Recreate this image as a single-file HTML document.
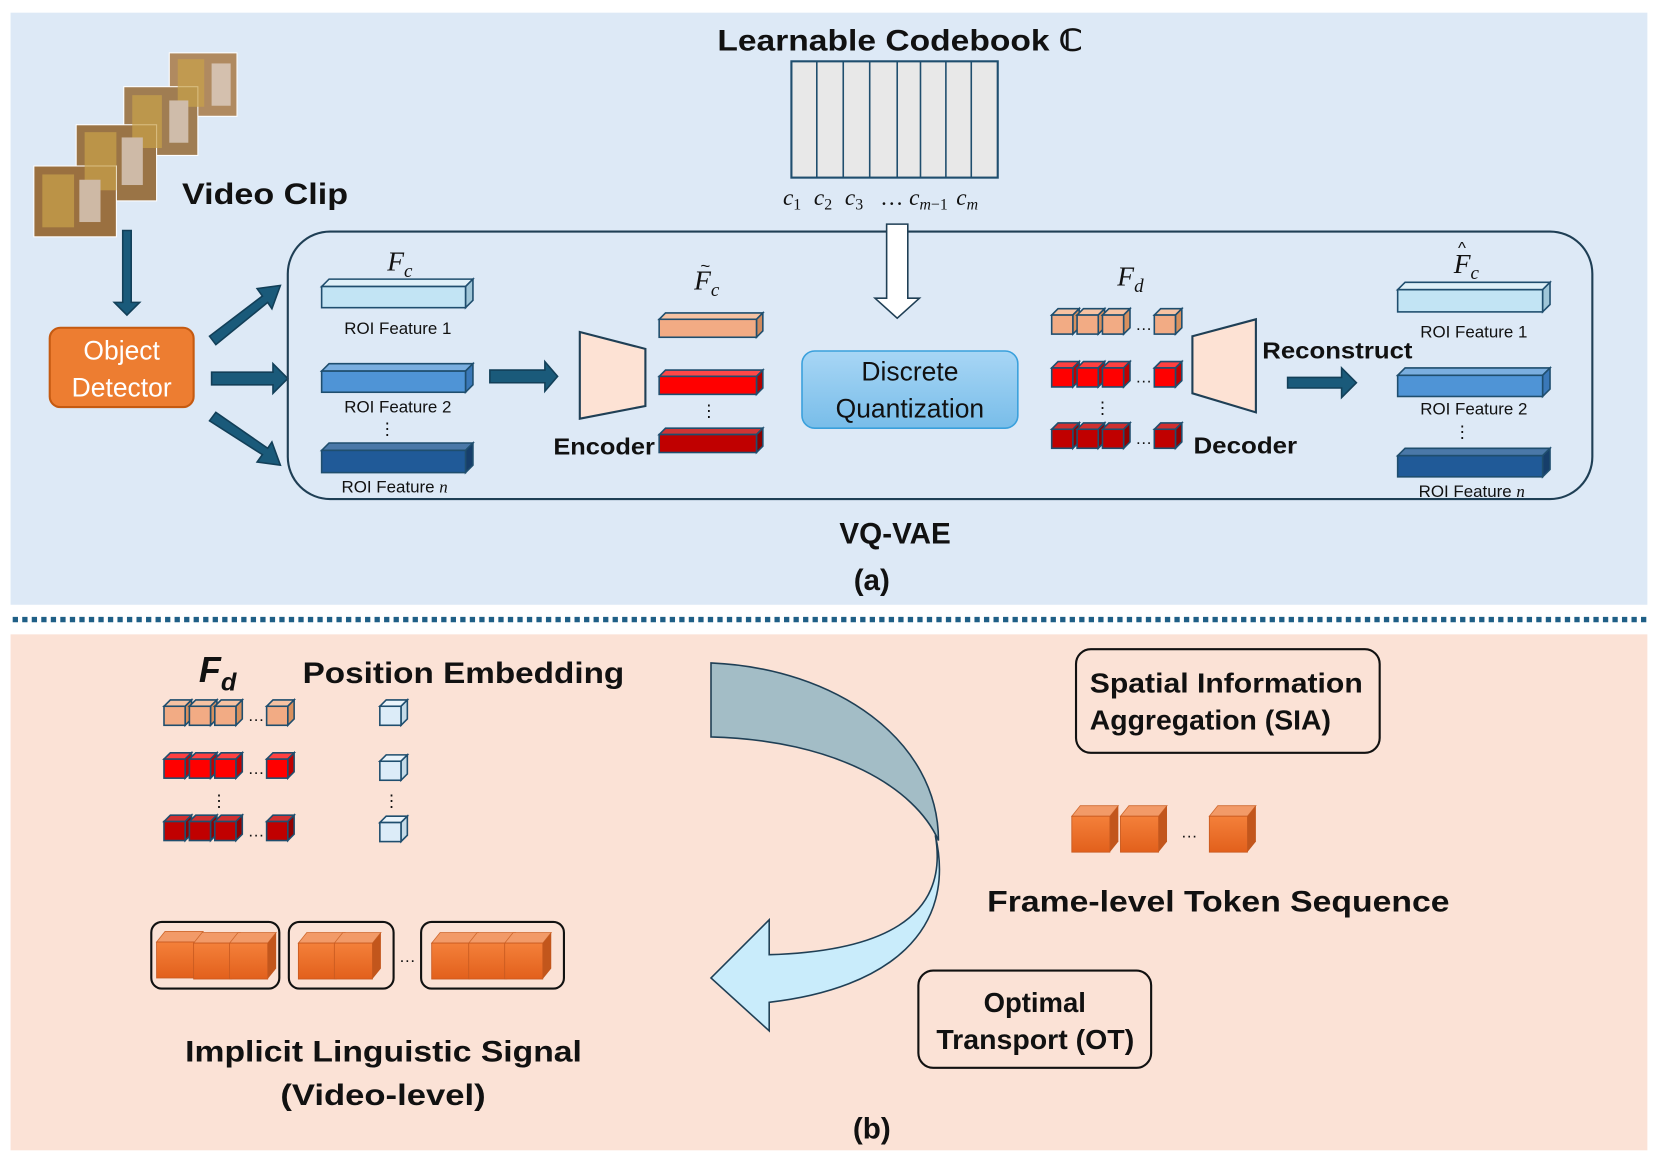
<!DOCTYPE html>
<html><head><meta charset="utf-8"><style>
html,body{margin:0;padding:0;background:#fff;}
svg{display:block;}
text{font-family:"Liberation Sans",sans-serif;}
.b{font-weight:bold;fill:#111;}
.m{font-family:"Liberation Serif",serif;font-style:italic;fill:#111;}
.s{font-size:16px;fill:#111;}
</style></head><body>
<svg width="1659" height="1163" viewBox="0 0 1568 1100" preserveAspectRatio="none" xmlns="http://www.w3.org/2000/svg">
<defs>
<g id="cO"><polygon points="0,6 6,0 26,0 20,6" fill="#f6c2a2" stroke="#1f4e6e" stroke-width="1.5"/><polygon points="20,6 26,0 26,18 20,24" fill="#d8905e" stroke="#1f4e6e" stroke-width="1.5"/><rect x="0" y="6" width="20" height="18" fill="#f2ab84" stroke="#1f4e6e" stroke-width="1.5"/></g>
<g id="cR"><polygon points="0,6 6,0 26,0 20,6" fill="#ff4040" stroke="#1f4e6e" stroke-width="1.5"/><polygon points="20,6 26,0 26,18 20,24" fill="#c00000" stroke="#1f4e6e" stroke-width="1.5"/><rect x="0" y="6" width="20" height="18" fill="#ff0000" stroke="#1f4e6e" stroke-width="1.5"/></g>
<g id="cD"><polygon points="0,6 6,0 26,0 20,6" fill="#d03030" stroke="#1f4e6e" stroke-width="1.5"/><polygon points="20,6 26,0 26,18 20,24" fill="#900000" stroke="#1f4e6e" stroke-width="1.5"/><rect x="0" y="6" width="20" height="18" fill="#c00000" stroke="#1f4e6e" stroke-width="1.5"/></g>
<g id="cL"><polygon points="0,6 6,0 26,0 20,6" fill="#eaf4fb" stroke="#1f4e6e" stroke-width="1.5"/><polygon points="20,6 26,0 26,18 20,24" fill="#c5dbe8" stroke="#1f4e6e" stroke-width="1.5"/><rect x="0" y="6" width="20" height="18" fill="#dcecf8" stroke="#1f4e6e" stroke-width="1.5"/></g>
<linearGradient id="og" x1="0" y1="0" x2="0" y2="1"><stop offset="0" stop-color="#f4803a"/><stop offset="1" stop-color="#e2601c"/></linearGradient>
<g id="cB"><polygon points="0,10 8,0 44,0 36,10" fill="#f29a68" stroke="#d06a30" stroke-width="0.8"/><polygon points="36,10 44,0 44,34 36,44" fill="#c2561c"/><rect x="0" y="10" width="36" height="34" fill="url(#og)" stroke="#c85a20" stroke-width="0.8"/></g>
<linearGradient id="dq" x1="0" y1="0" x2="0" y2="1"><stop offset="0" stop-color="#a8d6f5"/><stop offset="1" stop-color="#78bde9"/></linearGradient>
</defs>
<rect x="10" y="12" width="1547" height="560" fill="#dde9f6"/>
<rect x="10" y="600" width="1547" height="488" fill="#fbe2d6"/>
<line x1="12" y1="586" x2="1557" y2="586" stroke="#1f5f86" stroke-width="5" stroke-dasharray="5,4"/>

<text x="678" y="48" class="b" font-size="28" textLength="345" lengthAdjust="spacingAndGlyphs">Learnable Codebook ℂ</text>
<rect x="748" y="58" width="195" height="110" fill="#e8e8e8" stroke="#1f4e6e" stroke-width="2"/>
<g stroke="#1f4e6e" stroke-width="1.5"><line x1="772" y1="58" x2="772" y2="168"/><line x1="797" y1="58" x2="797" y2="168"/><line x1="822" y1="58" x2="822" y2="168"/><line x1="848" y1="58" x2="848" y2="168"/><line x1="870" y1="58" x2="870" y2="168"/><line x1="894" y1="58" x2="894" y2="168"/><line x1="918" y1="58" x2="918" y2="168"/></g>
<text x="740" y="194" class="m" font-size="22">c<tspan font-size="15" dy="4" font-style="normal">1</tspan><tspan dy="-4" dx="12">c</tspan><tspan font-size="15" dy="4" font-style="normal">2</tspan><tspan dy="-4" dx="12">c</tspan><tspan font-size="15" dy="4" font-style="normal">3</tspan><tspan dy="-4" dx="16" font-style="normal">… </tspan><tspan>c</tspan><tspan font-size="15" dy="4">m</tspan><tspan font-size="15" font-style="normal">−1</tspan><tspan dy="-4" dx="8">c</tspan><tspan font-size="15" dy="4">m</tspan></text>

<!-- video frames -->
<g stroke="#fff" stroke-width="1">
<rect x="160" y="50" width="64" height="60" fill="#b08a60"/><rect x="117" y="82" width="70" height="65" fill="#a07d52"/><rect x="72" y="118" width="76" height="72" fill="#9a7446"/><rect x="32" y="157" width="78" height="67" fill="#9a7040"/>
</g>
<g opacity="0.7"><rect x="40" y="165" width="30" height="50" fill="#c9a24a"/><rect x="80" y="125" width="30" height="55" fill="#c9a24a"/><rect x="125" y="90" width="28" height="50" fill="#c9a24a"/><rect x="168" y="56" width="25" height="45" fill="#c9a24a"/><rect x="75" y="170" width="20" height="40" fill="#e4d8d0"/><rect x="115" y="130" width="20" height="45" fill="#e4d8d0"/><rect x="160" y="95" width="18" height="40" fill="#e4d8d0"/><rect x="200" y="60" width="18" height="40" fill="#e4d8d0"/></g>
<text x="172" y="193" class="b" font-size="28" textLength="157" lengthAdjust="spacingAndGlyphs">Video Clip</text>

<!-- arrows left -->
<g fill="#1a5a7a" stroke="#123f58" stroke-width="1.5">
<polygon points="116,218 124,218 124,286 132,286 120,298 108,286 116,286"/>
<polygon points="200,352 258,352 258,344 272,358 258,372 258,364 200,364"/>
<polygon points="198,318 248,280 243,273 265,270 257,292 253,286 204,326"/>
<polygon points="198,398 204,390 253,424 257,418 265,440 243,437 248,430"/>
<polygon points="463,350 515,350 515,342 527,356 515,370 515,362 463,362"/>
<polygon points="1217,357 1268,357 1268,348 1282,362 1268,376 1268,367 1217,367"/>
</g>
<rect x="47" y="310" width="136" height="75" rx="10" fill="#ed7d31" stroke="#c55a11" stroke-width="2"/>
<text x="115" y="340" text-anchor="middle" font-size="25" fill="#fff">Object</text>
<text x="115" y="375" text-anchor="middle" font-size="25" fill="#fff">Detector</text>

<rect x="272" y="219" width="1233" height="253" rx="40" fill="none" stroke="#1f3f55" stroke-width="2"/>

<!-- Fc bars -->
<text x="366" y="256" class="m" font-size="26">F<tspan font-size="18" dy="6">c</tspan></text>
<g stroke="#1f4e6e" stroke-width="1.5">
<polygon points="304,271 311,264 447,264 440,271" fill="#dff0f8"/><polygon points="440,271 447,264 447,284 440,291" fill="#9fc6d8"/><rect x="304" y="271" width="136" height="20" fill="#c2e4f4"/>
<polygon points="304,351 311,344 447,344 440,351" fill="#7aaedf"/><polygon points="440,351 447,344 447,364 440,371" fill="#3a78b8"/><rect x="304" y="351" width="136" height="20" fill="#4f94d6"/>
<polygon points="304,426 311,419 447,419 440,426" fill="#4a78a8"/><polygon points="440,426 447,419 447,440 440,447" fill="#163e6a"/><rect x="304" y="426" width="136" height="21" fill="#205a98"/>
</g>
<text x="376" y="316" text-anchor="middle" class="s">ROI Feature 1</text>
<text x="376" y="390" text-anchor="middle" class="s">ROI Feature 2</text>
<text x="366" y="411" text-anchor="middle" class="s">⋮</text>
<text x="373" y="466" text-anchor="middle" class="s">ROI Feature <tspan class="m">n</tspan></text>

<!-- encoder -->
<polygon points="548,314 610,330 610,384 548,396" fill="#fde2d4" stroke="#1f3f55" stroke-width="2"/>
<text x="523" y="430" class="b" font-size="22" textLength="96" lengthAdjust="spacingAndGlyphs">Encoder</text>
<text x="656" y="274" class="m" font-size="26">F<tspan font-size="18" dy="6">c</tspan></text>
<text x="662" y="257" font-size="16" fill="#111">~</text>
<g stroke="#1f4e6e" stroke-width="1.5">
<polygon points="623,302 629,296 721,296 715,302" fill="#f6c2a2"/><polygon points="715,302 721,296 721,313 715,319" fill="#d08a5e"/><rect x="623" y="302" width="92" height="17" fill="#f2ab84"/>
<polygon points="623,356 629,350 721,350 715,356" fill="#ff4848"/><polygon points="715,356 721,350 721,367 715,373" fill="#b00000"/><rect x="623" y="356" width="92" height="17" fill="#ff0000"/>
<polygon points="623,411 629,405 721,405 715,411" fill="#d03434"/><polygon points="715,411 721,405 721,422 715,428" fill="#880000"/><rect x="623" y="411" width="92" height="17" fill="#c00000"/>
</g>
<text x="670" y="394" text-anchor="middle" class="s">⋮</text>

<!-- down hollow arrow -->
<polygon points="838,212 858,212 858,282 869,282 848,301 827,282 838,282" fill="#fff" stroke="#1f3f55" stroke-width="1.5"/>
<rect x="758" y="332" width="204" height="73" rx="12" fill="url(#dq)" stroke="#3aa0dc" stroke-width="1.5"/>
<text x="860" y="360" text-anchor="middle" font-size="25" fill="#111">Discrete</text>
<text x="860" y="395" text-anchor="middle" font-size="25" fill="#111">Quantization</text>

<!-- Fd cubes top -->
<text x="1056" y="270" class="m" font-size="26">F<tspan font-size="18" dy="6">d</tspan></text>
<use href="#cO" x="994" y="292"/><use href="#cO" x="1018" y="292"/><use href="#cO" x="1042" y="292"/><use href="#cO" x="1091" y="292"/>
<use href="#cR" x="994" y="342"/><use href="#cR" x="1018" y="342"/><use href="#cR" x="1042" y="342"/><use href="#cR" x="1091" y="342"/>
<use href="#cD" x="994" y="400"/><use href="#cD" x="1018" y="400"/><use href="#cD" x="1042" y="400"/><use href="#cD" x="1091" y="400"/>
<text x="1073" y="312" class="s">…</text><text x="1073" y="362" class="s">…</text><text x="1073" y="420" class="s">…</text>
<text x="1042" y="391" text-anchor="middle" class="s">⋮</text>
<polygon points="1127,318 1187,302 1187,390 1127,372" fill="#fde2d4" stroke="#1f3f55" stroke-width="2"/>
<text x="1128" y="429" class="b" font-size="22" textLength="98" lengthAdjust="spacingAndGlyphs">Decoder</text>
<text x="1193" y="339" class="b" font-size="22" textLength="142" lengthAdjust="spacingAndGlyphs">Reconstruct</text>

<!-- Fc hat bars -->
<text x="1374" y="258" class="m" font-size="26">F<tspan font-size="18" dy="6">c</tspan></text>
<text x="1378" y="240" font-size="16" fill="#111">^</text>
<g stroke="#1f4e6e" stroke-width="1.5">
<polygon points="1321,274 1328,267 1465,267 1458,274" fill="#dff0f8"/><polygon points="1458,274 1465,267 1465,288 1458,295" fill="#9fc6d8"/><rect x="1321" y="274" width="137" height="21" fill="#c2e4f4"/>
<polygon points="1321,355 1328,348 1465,348 1458,355" fill="#7aaedf"/><polygon points="1458,355 1465,348 1465,368 1458,375" fill="#3a78b8"/><rect x="1321" y="355" width="137" height="20" fill="#4f94d6"/>
<polygon points="1321,431 1328,424 1465,424 1458,431" fill="#4a78a8"/><polygon points="1458,431 1465,424 1465,444 1458,451" fill="#163e6a"/><rect x="1321" y="431" width="137" height="20" fill="#205a98"/>
</g>
<text x="1393" y="319" text-anchor="middle" class="s">ROI Feature 1</text>
<text x="1393" y="392" text-anchor="middle" class="s">ROI Feature 2</text>
<text x="1382" y="414" text-anchor="middle" class="s">⋮</text>
<text x="1391" y="470" text-anchor="middle" class="s">ROI Feature <tspan class="m">n</tspan></text>

<text x="846" y="514" text-anchor="middle" class="b" font-size="28">VQ-VAE</text>
<text x="824" y="558" text-anchor="middle" font-family="Liberation Serif,serif" font-weight="bold" font-size="28" fill="#111">(a)</text>

<!-- bottom -->
<text x="188" y="645" font-family="Liberation Serif,serif" font-style="italic" font-weight="bold" font-size="34" fill="#111">F<tspan font-size="24" dy="8">d</tspan></text>
<text x="286" y="646" class="b" font-size="28" textLength="304" lengthAdjust="spacingAndGlyphs">Position Embedding</text>
<use href="#cO" x="155" y="662"/><use href="#cO" x="179" y="662"/><use href="#cO" x="203" y="662"/><use href="#cO" x="252" y="662"/>
<use href="#cR" x="155" y="712"/><use href="#cR" x="179" y="712"/><use href="#cR" x="203" y="712"/><use href="#cR" x="252" y="712"/>
<use href="#cD" x="155" y="771"/><use href="#cD" x="179" y="771"/><use href="#cD" x="203" y="771"/><use href="#cD" x="252" y="771"/>
<text x="234" y="682" class="s">…</text><text x="234" y="732" class="s">…</text><text x="234" y="791" class="s">…</text>
<text x="207" y="763" text-anchor="middle" class="s">⋮</text>
<use href="#cL" x="359" y="662"/>
<use href="#cL" x="359" y="714"/>
<use href="#cL" x="359" y="772"/>
<text x="370" y="763" text-anchor="middle" class="s">⋮</text>

<!-- curved arrow -->
<path d="M672,627 C790,632 887,700 887,795 C865,745 790,700 672,697 Z" fill="#a3bdc6" stroke="#1f3f55" stroke-width="1.5"/>
<path d="M884,790 C898,870 830,900 727,903 L727,870 L672,925 L727,975 L727,948 C840,935 905,880 884,790 Z" fill="#c9ecfb" stroke="#1f3f55" stroke-width="1.5"/>

<g fill="none" stroke="#111" stroke-width="2">
<rect x="143" y="872" width="121" height="63" rx="10"/><rect x="273" y="872" width="99" height="63" rx="10"/><rect x="398" y="872" width="135" height="63" rx="10"/>
</g>
<use href="#cB" x="148" y="881"/><use href="#cB" x="183" y="882"/><use href="#cB" x="217" y="882"/>
<use href="#cB" x="282" y="882"/><use href="#cB" x="316" y="882"/>
<use href="#cB" x="408" y="882"/><use href="#cB" x="443" y="882"/><use href="#cB" x="477" y="882"/>
<text x="377" y="910" class="s">…</text>
<text x="175" y="1004" class="b" font-size="28" textLength="375" lengthAdjust="spacingAndGlyphs">Implicit Linguistic Signal</text>
<text x="265" y="1045" class="b" font-size="28" textLength="194" lengthAdjust="spacingAndGlyphs">(Video-level)</text>

<rect x="1017" y="614" width="287" height="98" rx="14" fill="none" stroke="#111" stroke-width="2"/>
<text x="1030" y="655" class="b" font-size="26" textLength="258" lengthAdjust="spacingAndGlyphs">Spatial Information</text>
<text x="1030" y="690" class="b" font-size="26" textLength="228" lengthAdjust="spacingAndGlyphs">Aggregation (SIA)</text>
<use href="#cB" x="1013" y="762"/><use href="#cB" x="1059" y="762"/><use href="#cB" x="1143" y="762"/>
<text x="1116" y="792" class="s">…</text>
<text x="933" y="862" class="b" font-size="28" textLength="437" lengthAdjust="spacingAndGlyphs">Frame-level Token Sequence</text>

<rect x="868" y="918" width="220" height="92" rx="14" fill="none" stroke="#111" stroke-width="2"/>
<text x="978" y="957" text-anchor="middle" class="b" font-size="26">Optimal</text>
<text x="885" y="992" class="b" font-size="26" textLength="187" lengthAdjust="spacingAndGlyphs">Transport (OT)</text>

<text x="824" y="1077" text-anchor="middle" font-family="Liberation Serif,serif" font-weight="bold" font-size="28" fill="#111">(b)</text>
</svg>
</body></html>
